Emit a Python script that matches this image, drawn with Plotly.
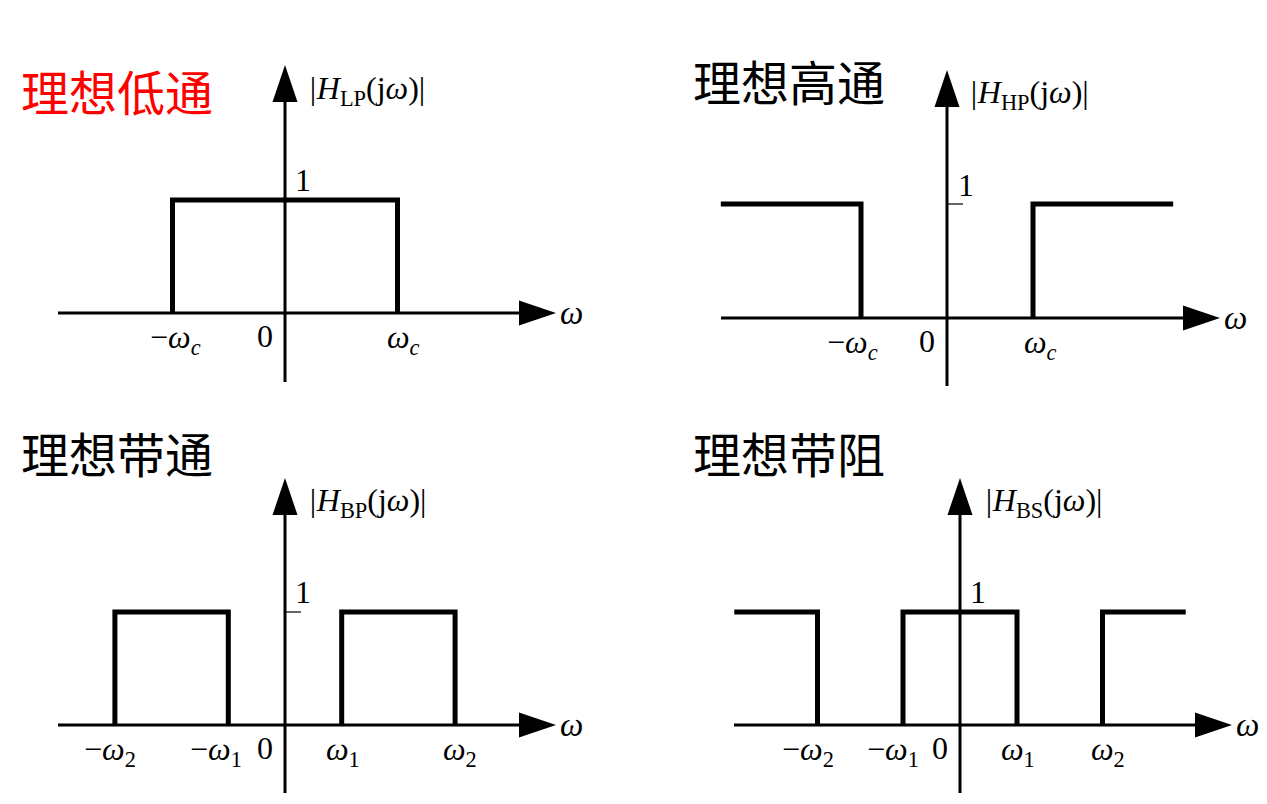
import plotly.graph_objects as go

W, H = 1267, 804
PAD = 8  # default page margin around the plot div
WF, HF = W - 2 * PAD, H - 2 * PAD

# ---------------- data ----------------
# Ideal low-pass  (omega in units of omega_c)
LP_OMEGA = [-1, -1, 1, 1]
LP_MAG = [0, 1, 1, 0]
LP_TICKS = [-1, 1]
LP_TICKTEXT = ["−<i>ω</i><sub><i>c</i></sub>", "<i>ω</i><sub><i>c</i></sub>"]

# Ideal high-pass
HP_OMEGA = [-2.63, -1, -1, None, 1, 1, 2.63]
HP_MAG = [1, 1, 0, None, 0, 1, 1]
HP_TICKS = [-1, 1]
HP_TICKTEXT = ["−<i>ω</i><sub><i>c</i></sub>", "<i>ω</i><sub><i>c</i></sub>"]

# Ideal band-pass (omega1 = 1, omega2 = 3)
BP_OMEGA = [-3, -3, -1, -1, None, 1, 1, 3, 3]
BP_MAG = [0, 1, 1, 0, None, 0, 1, 1, 0]
BP_TICKS = [-3, -1, 1, 3]
BP_TICKTEXT = ["−<i>ω</i><sub>2</sub>", "−<i>ω</i><sub>1</sub>",
               "<i>ω</i><sub>1</sub>", "<i>ω</i><sub>2</sub>"]

# Ideal band-stop (omega1 = 1, omega2 = 2.5)
BS_OMEGA = [-3.96, -2.5, -2.5, None, -1, -1, 1, 1, None, 2.5, 2.5, 3.96]
BS_MAG = [1, 1, 0, None, 0, 1, 1, 0, None, 0, 1, 1]
BS_TICKS = [-2.5, -1, 1, 2.5]
BS_TICKTEXT = ["−<i>ω</i><sub>2</sub>", "−<i>ω</i><sub>1</sub>",
               "<i>ω</i><sub>1</sub>", "<i>ω</i><sub>2</sub>"]

TITLES = ["理想低通", "理想高通", "理想带通", "理想带阻"]
TITLE_COLORS = ["#ff0000", "#000000", "#000000", "#000000"]
YLABELS = ["<i>|H</i><sub>LP</sub>(j<i>ω</i>)|", "<i>|H</i><sub>HP</sub>(j<i>ω</i>)|",
           "<i>|H</i><sub>BP</sub>(j<i>ω</i>)|", "<i>|H</i><sub>BS</sub>(j<i>ω</i>)|"]

# ---------------- panel geometry (screen pixels) ----------------
PANELS = [
    dict(ox=285, oy=313, sx=112.5, sy=113, xl=58, xt=556, yt=65, yb=382, tick1=False,
         label_shift=[3, 6],
         title_xy=(19, 90), ylab_xy=(306, 91), one_xy=(303, 180)),
    dict(ox=947, oy=318, sx=86, sy=114, xl=721, xt=1220, yt=70, yb=386, tick1=True,
         label_shift=[-9, 7],
         title_xy=(691, 80), ylab_xy=(967, 95), one_xy=(966, 185)),
    dict(ox=285, oy=725, sx=56.7, sy=113, xl=58, xt=556, yt=478, yb=793, tick1=True,
         label_shift=[-5, -12, 1, 5],
         title_xy=(19, 452), ylab_xy=(306, 502), one_xy=(303, 592)),
    dict(ox=960, oy=725, sx=57, sy=113, xl=734, xt=1232, yt=478, yb=793, tick1=False,
         label_shift=[-10, -10, 1, 5],
         title_xy=(691, 452), ylab_xy=(982, 502), one_xy=(978, 592)),
]
SERIES = [(LP_OMEGA, LP_MAG, LP_TICKS, LP_TICKTEXT),
          (HP_OMEGA, HP_MAG, HP_TICKS, HP_TICKTEXT),
          (BP_OMEGA, BP_MAG, BP_TICKS, BP_TICKTEXT),
          (BS_OMEGA, BS_MAG, BS_TICKS, BS_TICKTEXT)]

SERIF = "Liberation Serif, Times New Roman, serif"
CJK = "Noto Sans CJK SC, sans-serif"
HEAD_LEN, HEAD_HALF = 37, 12.5  # arrowhead size in px
MATH_SIZE = 32


def px(xs):
    return (xs - PAD) / WF


def py(ys):
    return 1 - (ys - PAD) / HF


fig = go.Figure()
annotations = []
layout_axes = {}

for i, (p, (om, mag, ticks, ticktext)) in enumerate(zip(PANELS, SERIES)):
    n = "" if i == 0 else str(i + 1)
    xa, ya = "x" + n, "y" + n
    ox, oy, sx, sy = p["ox"] - PAD, p["oy"] - PAD, p["sx"], p["sy"]
    xr = [-ox / sx, (WF - ox) / sx]
    yr = [-(HF - oy) / sy, oy / sy]
    ax_x = dict(range=xr, domain=[0, 1], visible=False, fixedrange=True)
    ax_y = dict(range=yr, domain=[0, 1], visible=False, fixedrange=True)
    if i > 0:
        ax_x.update(overlaying="x", anchor=ya)
        ax_y.update(overlaying="y", anchor=xa)
    layout_axes["xaxis" + n] = ax_x
    layout_axes["yaxis" + n] = ax_y

    def dx(pxv, sx=sx, ox=p["ox"]):
        return (pxv - ox) / sx

    def dy(pyv, sy=sy, oy=p["oy"]):
        return (oy - pyv) / sy

    hl_x, hh_y = HEAD_LEN / sx, HEAD_HALF / sy
    hl_y, hh_x = HEAD_LEN / sy, HEAD_HALF / sx
    x_tip, y_tip = dx(p["xt"]), dy(p["yt"])

    # axes lines
    fig.add_trace(go.Scatter(x=[dx(p["xl"]), x_tip - hl_x * 0.5], y=[0, 0], mode="lines",
                             line=dict(color="black", width=3), xaxis=xa, yaxis=ya,
                             hoverinfo="skip", showlegend=False))
    fig.add_trace(go.Scatter(x=[0, 0], y=[dy(p["yb"]), y_tip - hl_y * 0.5], mode="lines",
                             line=dict(color="black", width=3), xaxis=xa, yaxis=ya,
                             hoverinfo="skip", showlegend=False))
    # arrowheads
    fig.add_trace(go.Scatter(x=[x_tip, x_tip - hl_x, x_tip - hl_x, x_tip],
                             y=[0, hh_y, -hh_y, 0], mode="lines", fill="toself",
                             fillcolor="black", line=dict(color="black", width=0),
                             xaxis=xa, yaxis=ya, hoverinfo="skip", showlegend=False))
    fig.add_trace(go.Scatter(x=[0, hh_x, -hh_x, 0],
                             y=[y_tip, y_tip - hl_y, y_tip - hl_y, y_tip], mode="lines",
                             fill="toself", fillcolor="black",
                             line=dict(color="black", width=0),
                             xaxis=xa, yaxis=ya, hoverinfo="skip", showlegend=False))
    # small tick at magnitude 1
    if p["tick1"]:
        fig.add_trace(go.Scatter(x=[0, dx(p["ox"] + 16)], y=[1, 1], mode="lines",
                                 line=dict(color="black", width=1.2), xaxis=xa, yaxis=ya,
                                 hoverinfo="skip", showlegend=False))
    # the response
    fig.add_trace(go.Scatter(x=om, y=mag, mode="lines",
                             line=dict(color="black", width=5),
                             xaxis=xa, yaxis=ya, hoverinfo="skip", showlegend=False))

    # tick labels on omega axis
    for t, tt, sh in zip(ticks, ticktext, p["label_shift"]):
        annotations.append(dict(x=t, y=0, xref=xa, yref=ya, text=tt, showarrow=False,
                                xanchor="center", yanchor="top", yshift=-4, xshift=sh,
                                font=dict(family=SERIF, size=MATH_SIZE, color="black")))
    # zero
    annotations.append(dict(x=0, y=0, xref=xa, yref=ya, text="0", showarrow=False,
                            xanchor="right", yanchor="top", xshift=-10, yshift=-3,
                            font=dict(family=SERIF, size=MATH_SIZE, color="black")))
    # omega axis name
    annotations.append(dict(x=x_tip, y=0, xref=xa, yref=ya, text="<i>ω</i>",
                            showarrow=False, xanchor="left", yanchor="middle", xshift=2,
                            font=dict(family=SERIF, size=33, color="black")))
    # "1"
    annotations.append(dict(x=px(p["one_xy"][0]), y=py(p["one_xy"][1]), xref="paper",
                            yref="paper", text="1", showarrow=False, xanchor="center",
                            yanchor="middle",
                            font=dict(family=SERIF, size=MATH_SIZE, color="black")))
    # y label
    annotations.append(dict(x=px(p["ylab_xy"][0]), y=py(p["ylab_xy"][1]), xref="paper",
                            yref="paper", text=YLABELS[i], showarrow=False, xanchor="left",
                            yanchor="middle",
                            font=dict(family=SERIF, size=MATH_SIZE, color="black")))
    # title
    annotations.append(dict(x=px(p["title_xy"][0]), y=py(p["title_xy"][1]),
                            xref="paper", yref="paper", text=TITLES[i], showarrow=False,
                            xanchor="left", yanchor="middle",
                            font=dict(family=CJK, size=48, color=TITLE_COLORS[i])))

fig.update_layout(
    width=WF, height=HF,
    margin=dict(l=0, r=0, t=0, b=0),
    paper_bgcolor="white", plot_bgcolor="white",
    showlegend=False,
    annotations=annotations,
    **layout_axes,
)

fig.write_html("out.html")
